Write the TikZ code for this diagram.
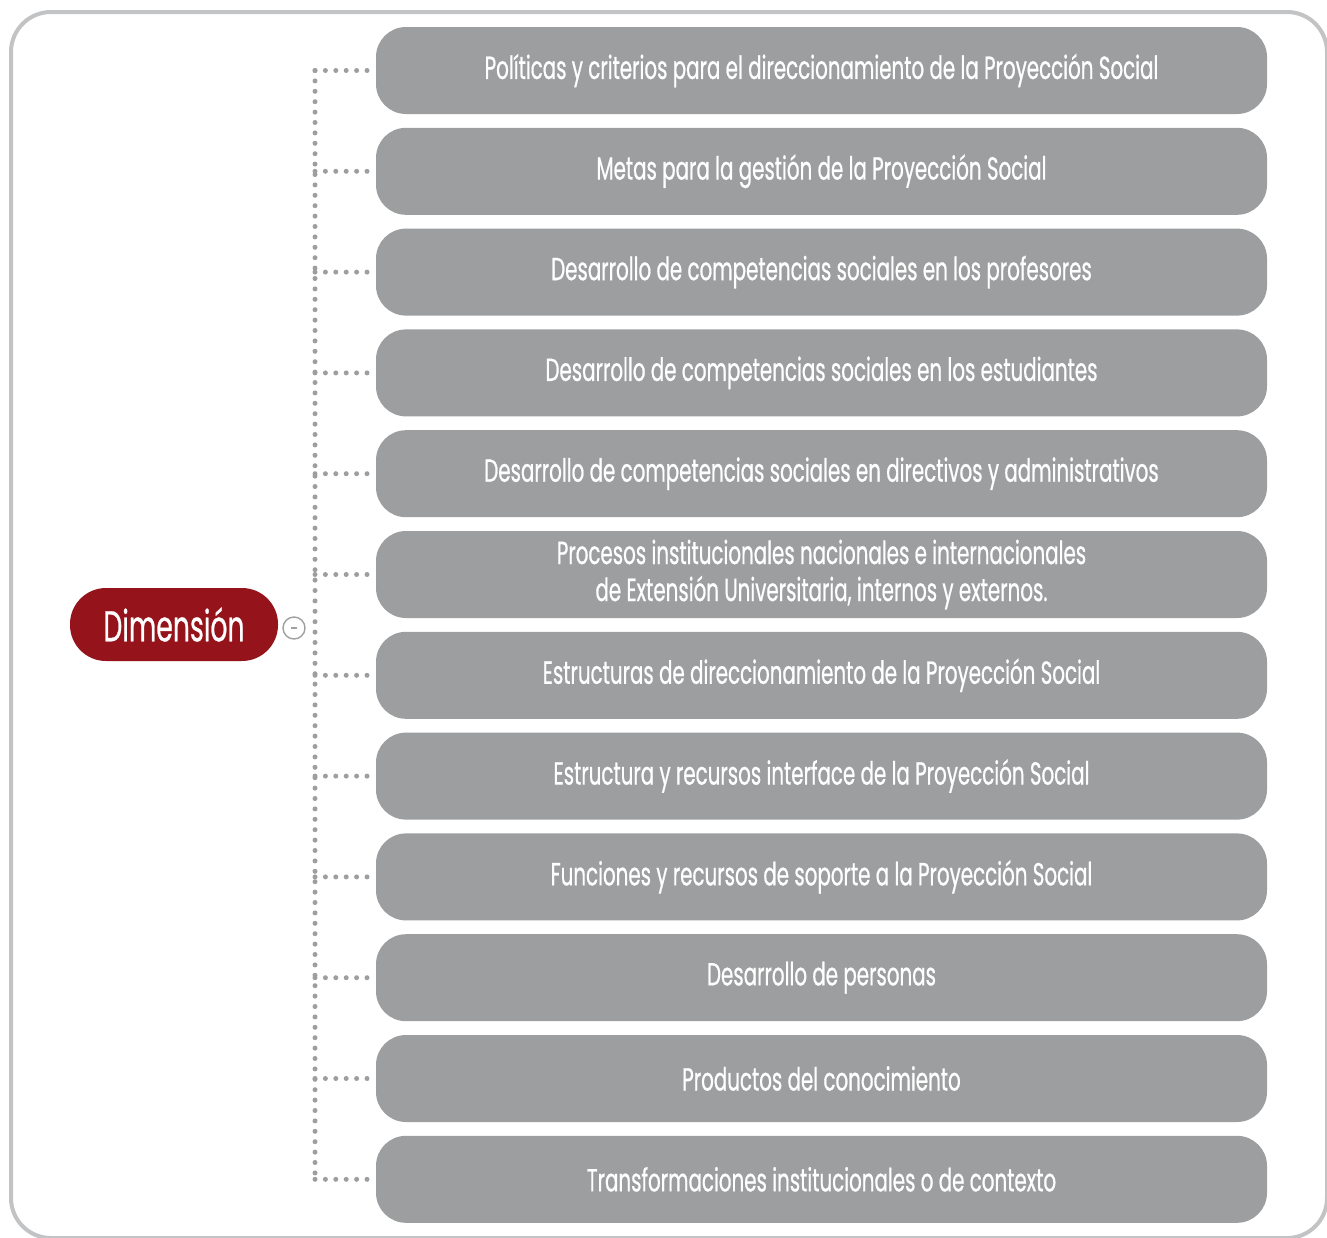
\documentclass[tikz,border=0pt]{standalone}
\usepackage{fontspec}
\setmainfont{Poppins}[FakeStretch=0.62,FakeBold=0.6]
\definecolor{boxgray}{HTML}{9D9EA0}
\definecolor{framegray}{HTML}{C2C3C5}
\definecolor{dimred}{HTML}{95141B}
\definecolor{dotgray}{HTML}{9D9EA0}
\begin{document}
\begin{tikzpicture}[x=1pt,y=-1pt,
  itembox/.style={fill=boxgray, draw=none, rounded corners=30pt, minimum width=891pt, minimum height=87pt, text=white, align=center, font=\fontsize{32}{37}\selectfont, inner sep=0pt},
  dimbox/.style={fill=dimred, draw=none, rounded corners=36pt, minimum width=208pt, minimum height=73pt, text=white, font=\fontsize{43}{46}\selectfont, inner sep=0pt},
  dotline/.style={draw=dotgray, line width=5pt, line cap=round, dash pattern=on 0pt off 10.4pt}]
\useasboundingbox (0,0) rectangle (1327,1237);
\begin{scope}
\clip (0,0) rectangle (1327,1237);
\draw[framegray, line width=4pt, rounded corners=40pt] (11,12) rectangle (1327,1238);
\end{scope}
\node[dimbox] (dim) at (174,624.5) {Dimensión};
\node[circle, draw=gray!75, line width=1.4pt, minimum size=22pt, inner sep=0pt] (minus) at (294,628) {};
\draw[gray!75, line width=1.4pt] ([xshift=-3pt]minus.center) -- ([xshift=3pt]minus.center);
\foreach \i/\t in {1/{Políticas y criterios para el direccionamiento de la Proyección Social},
  2/{Metas para la gestión de la Proyección Social},
  3/{Desarrollo de competencias sociales en los profesores},
  4/{Desarrollo de competencias sociales en los estudiantes},
  5/{Desarrollo de competencias sociales en directivos y administrativos},
  6/{Procesos institucionales nacionales e internacionales\\de Extensión Universitaria, internos y externos.},
  7/{Estructuras de direccionamiento de la Proyección Social},
  8/{Estructura y recursos interface de la Proyección Social},
  9/{Funciones y recursos de soporte a la Proyección Social},
  10/{Desarrollo de personas},
  11/{Productos del conocimiento},
  12/{Transformaciones institucionales o de contexto}}{
  \node[itembox] (b\i) at (821.5, {70.5+100.8*(\i-1)}) {\t};
  \coordinate (c\i) at (315, {70.5+100.8*(\i-1)});
  \draw[dotline] (c\i) -- ([xshift=-6pt]b\i.west);
}
\draw[dotline] (c1) -- (c12);
\end{tikzpicture}
\end{document}
